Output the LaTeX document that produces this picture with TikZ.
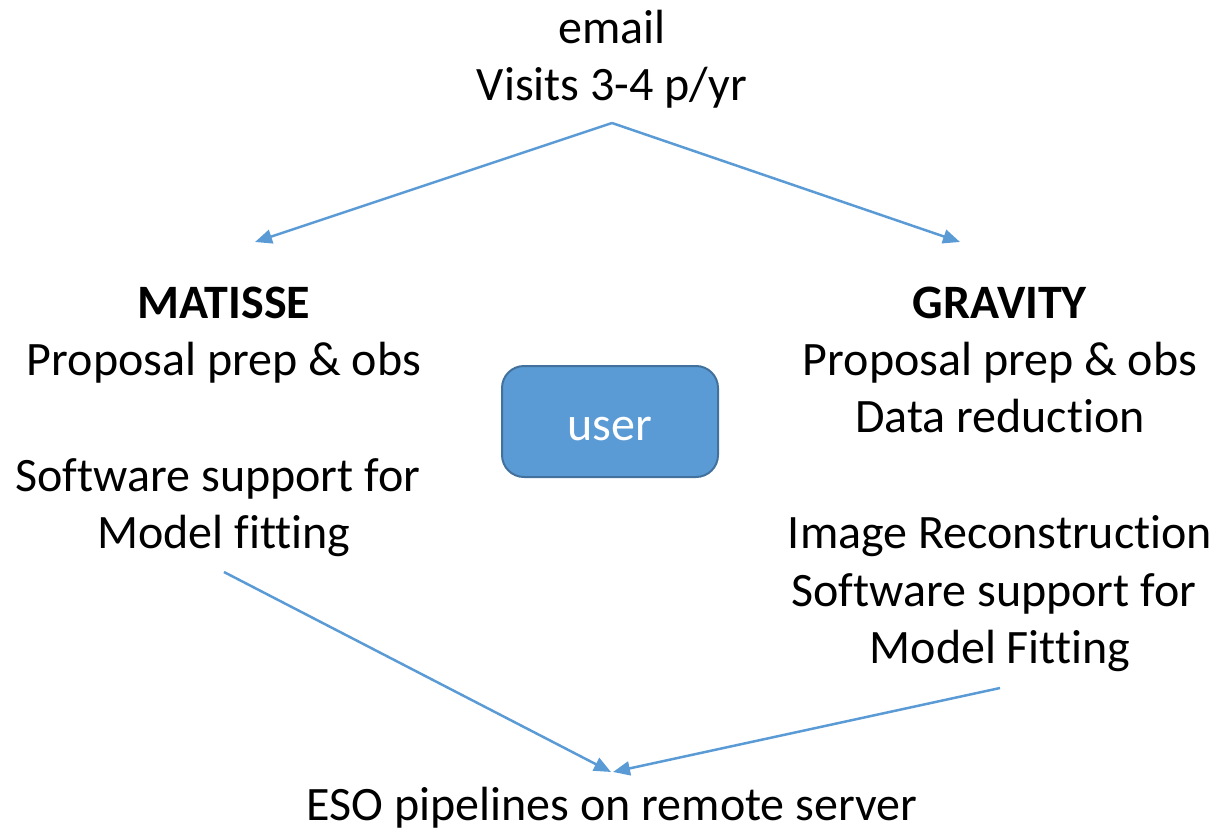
\documentclass[tikz,border=0pt]{standalone}
\usepackage{fontspec}
\setmainfont[Ligatures={NoCommon}]{Carlito}
\usetikzlibrary{arrows.meta}
\definecolor{linkblue}{HTML}{5B9BD5}
\definecolor{boxedge}{HTML}{41719C}
\tikzset{
  lbl/.style={anchor=base, inner sep=0pt, font=\fontsize{48}{58}\selectfont, text=black},
  conn/.style={draw=linkblue, line width=2.5pt, -{Triangle[length=17pt,width=14pt]}},
  userbox/.style={draw=boxedge, line width=2pt, fill=linkblue, rounded corners=22pt,
    minimum width=216pt, minimum height=111pt, inner sep=0pt}
}
\begin{document}
\begin{tikzpicture}[x=1pt,y=-1pt]
\useasboundingbox (0,0) rectangle (1217,837);
% top
\node[lbl] (email) at (612,44) {email};
\node[lbl] (visits) at (612,101) {Visits 3-4 p/yr};
% left
\node[lbl] (matisse) at (224,318) {\textbf{MATISSE}};
\node[lbl] (mprop) at (224,375) {Proposal prep \& obs};
\node[lbl] (msoft) at (218,491) {Software support for};
\node[lbl] (mmodel) at (224,548) {Model fitting};
% right
\node[lbl] (gravity) at (1000,318) {\textbf{GRAVITY}};
\node[lbl] (gprop) at (1000,375) {Proposal prep \& obs};
\node[lbl] (gdata) at (1000,432) {Data reduction};
\node[lbl] (gimage) at (1000,548) {Image Reconstruction};
\node[lbl] (gsoft) at (994,606) {Software support for};
\node[lbl] (gmodel) at (1000,663) {Model Fitting};
% bottom
\node[lbl] (eso) at (612,820) {ESO pipelines on remote server};
% user
\node[userbox] (user) at (610,421.5) {};
\node[lbl, text=white] (usertext) at (610,440) {user};
% connector ends
\coordinate (topstart) at (612,123);
\coordinate (mtarget) at (255,242);
\coordinate (gtarget) at (960,242);
\coordinate (mstart) at (224,572);
\coordinate (gstart) at (1000,688);
\coordinate (esoL) at (611,772);
\coordinate (esoR) at (613,772);
\draw[conn] (topstart) -- (mtarget);
\draw[conn] (topstart) -- (gtarget);
\draw[conn] (mstart) -- (esoL);
\draw[conn] (gstart) -- (esoR);
\end{tikzpicture}
\end{document}
